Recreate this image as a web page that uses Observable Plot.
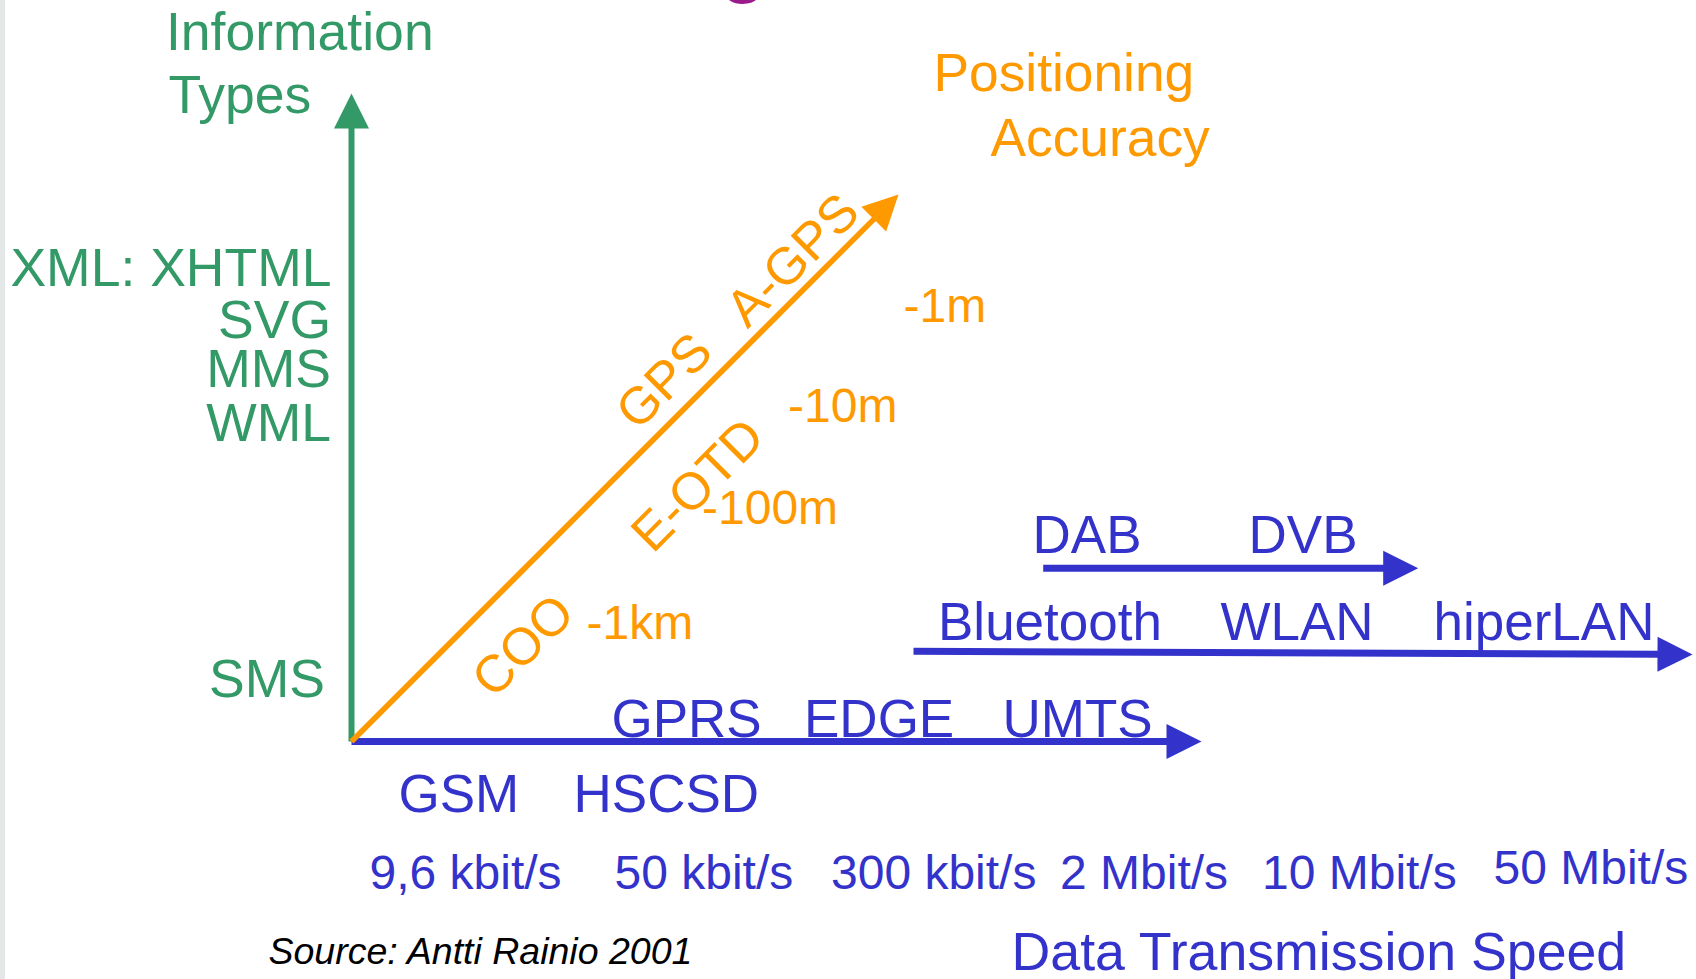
<!DOCTYPE html>
<html>
<head>
<meta charset="utf-8">
<script src="https://cdn.jsdelivr.net/npm/d3@7"></script>
<script src="https://cdn.jsdelivr.net/npm/@observablehq/plot@0.6"></script>
<style>
  html, body { margin: 0; padding: 0; }
  body { background: linear-gradient(to right, #e3e7e8 0, #e3e7e8 5px, #ffffff 5px); }
  #chart svg { display: block; }
</style>
</head>
<body>
<div id="chart"></div>
<script>
// ---------- data (diagram units: origin at the corner of the axes) ----------
// Arrows
const arrowIds   = ["information", "accuracy", "cellular", "wireless", "broadcast"];
const arrowKind  = ["info", "accuracy", "speed", "speed", "speed"];
const arrowX1    = [0, 0, 0, 5.62, 6.917];
const arrowY1    = [0, 0, 0, 0.903, 1.733];
const arrowX2    = [0, 5.47, 8.50, 13.41, 10.667];
const arrowY2    = [6.48, 5.47, 0, 0.87, 1.733];

// Information types (green axis)
const infoTitle  = ["Information", "Types"];
const infoTitleX = [-1.855, -1.83];
const infoTitleY = [6.917, 6.283];
const infoTypes  = ["XML: XHTML", "SVG", "MMS", "WML", "SMS"];
const infoX      = [-0.20, -0.205, -0.205, -0.205, -0.265];
const infoLevel  = [4.56, 4.033, 3.543, 3.01, 0.443];

// Positioning accuracy (orange diagonal)
const accTitle   = ["Positioning", "Accuracy"];
const accTitleX  = [5.82, 6.39];
const accTitleY  = [6.503, 5.86];
const accLabels  = ["-1m", "-10m", "-100m", "-1km"];
const accX       = [5.52, 4.365, 3.505, 2.35];
const accY       = [4.20, 3.20, 2.18, 1.027];
const posMethods = ["GPS", "A-GPS", "E-OTD", "COO"];
const posX       = [3.13, 4.415, 3.467, 1.72];
const posY       = [3.60, 4.81, 2.56, 0.955];

// Transmission technologies (blue arrows)
const techLabels = ["GPRS", "EDGE", "UMTS", "GSM", "HSCSD", "DAB", "DVB", "Bluetooth", "WLAN", "hiperLAN"];
const techX      = [2.60, 4.525, 6.51, 0.47, 2.22, 6.81, 8.97, 5.865, 8.69, 10.82];
const techY      = [0.043, 0.043, 0.043, -0.707, -0.707, 1.887, 1.887, 1.02, 1.02, 1.02];

// Speed tick labels
const speedLabels = ["9,6 kbit/s", "50 kbit/s", "300 kbit/s", "2 Mbit/s", "10 Mbit/s", "50 Mbit/s"];
const speedX      = [0.18, 2.63, 4.795, 7.085, 9.105, 11.42];
const speedY      = [-1.473, -1.473, -1.473, -1.473, -1.473, -1.423];
const speedTitle  = ["Data Transmission Speed"];
const speedTitleX = [6.60];
const speedTitleY = [-2.28];

const sourceText = ["Source: Antti Rainio 2001"];
const sourceX    = [-0.83];
const sourceY    = [-2.223];

// fragment of the slide title cut off at the top edge
const titleFrag  = ["g"];
const titleFragX = [3.92];
const titleFragY = [7.56];

// ---------- build tables ----------
const arrows = arrowIds.map((id, i) => ({id, kind: arrowKind[i], x1: arrowX1[i], y1: arrowY1[i], x2: arrowX2[i], y2: arrowY2[i]}));
const headLen = 0.35, headHalf = 0.175;
const shafts = arrows.map(a => {
  const dx = a.x2 - a.x1, dy = a.y2 - a.y1, L = Math.hypot(dx, dy);
  const ux = dx / L, uy = dy / L;
  return {...a, xe: a.x2 - ux * (headLen - 0.03), ye: a.y2 - uy * (headLen - 0.03)};
});
const heads = arrows.flatMap(a => {
  const dx = a.x2 - a.x1, dy = a.y2 - a.y1, L = Math.hypot(dx, dy);
  const ux = dx / L, uy = dy / L, px = -uy, py = ux;
  const bx = a.x2 - ux * headLen, by = a.y2 - uy * headLen;
  return [
    {id: a.id, kind: a.kind, x: a.x2, y: a.y2},
    {id: a.id, kind: a.kind, x: bx + px * headHalf, y: by + py * headHalf},
    {id: a.id, kind: a.kind, x: bx - px * headHalf, y: by - py * headHalf},
    {id: a.id, kind: a.kind, x: a.x2, y: a.y2}
  ];
});
const tbl = (texts, xs, ys, kind) => texts.map((t, i) => ({text: t, x: xs[i], y: ys[i], kind}));
const infoTitleT = tbl(infoTitle, infoTitleX, infoTitleY, "info");
const infoT      = tbl(infoTypes, infoX, infoLevel, "info");
const accTitleT  = tbl(accTitle, accTitleX, accTitleY, "accuracy");
const accT       = tbl(accLabels, accX, accY, "accuracy");
const posT       = tbl(posMethods, posX, posY, "accuracy");
const techT      = tbl(techLabels, techX, techY, "speed");
const speedT     = tbl(speedLabels, speedX, speedY, "speed");
const speedTitleT= tbl(speedTitle, speedTitleX, speedTitleY, "speed");
const sourceT    = tbl(sourceText, sourceX, sourceY, "source");
const fragT      = tbl(titleFrag, titleFragX, titleFragY, "title");

const FONT = "'Liberation Sans', Arial, Helvetica, sans-serif";
const common = {x: "x", y: "y", text: "text", fill: "kind", lineAnchor: "bottom", fontFamily: FONT};

const chart = Plot.plot({
  width: 1696,
  height: 979,
  margin: 0,
  style: {background: "transparent", fontFamily: FONT},
  x: {domain: [-3.51, 13.45], axis: null},
  y: {domain: [-2.38, 7.41], axis: null},
  color: {domain: ["info", "accuracy", "speed", "source", "title"], range: ["#339966", "#ff9900", "#3333cc", "#000000", "#9b1b8c"]},
  marks: [
    Plot.link(shafts.filter(d => d.kind === "speed"), {x1: "x1", y1: "y1", x2: "xe", y2: "ye", stroke: "kind", strokeWidth: 7}),
    Plot.link(shafts.filter(d => d.kind === "info"), {x1: "x1", y1: "y1", x2: "xe", y2: "ye", stroke: "kind", strokeWidth: 6}),
    Plot.link(shafts.filter(d => d.kind === "accuracy"), {x1: "x1", y1: "y1", x2: "xe", y2: "ye", stroke: "kind", strokeWidth: 5.5}),
    Plot.line(heads, {x: "x", y: "y", z: "id", fill: "kind", stroke: "none"}),
    Plot.text(fragT, {...common, textAnchor: "middle", fontSize: 88}),
    Plot.text(infoTitleT, {...common, textAnchor: "start", fontSize: 53.5}),
    Plot.text(infoT, {...common, textAnchor: "end", fontSize: 53.5}),
    Plot.text(accTitleT, {...common, textAnchor: "start", fontSize: 53.3}),
    Plot.text(accT, {...common, textAnchor: "start", fontSize: 48}),
    Plot.text(posT, {...common, lineAnchor: "middle", textAnchor: "middle", rotate: -45, fontSize: 52}),
    Plot.text(techT, {...common, textAnchor: "start", fontSize: 53}),
    Plot.text(speedT, {...common, textAnchor: "start", fontSize: 48}),
    Plot.text(speedTitleT, {...common, textAnchor: "start", fontSize: 53.7}),
    Plot.text(sourceT, {...common, textAnchor: "start", fontSize: 37.5, fontStyle: "italic"})
  ]
});
document.getElementById("chart").appendChild(chart);
</script>
</body>
</html>
